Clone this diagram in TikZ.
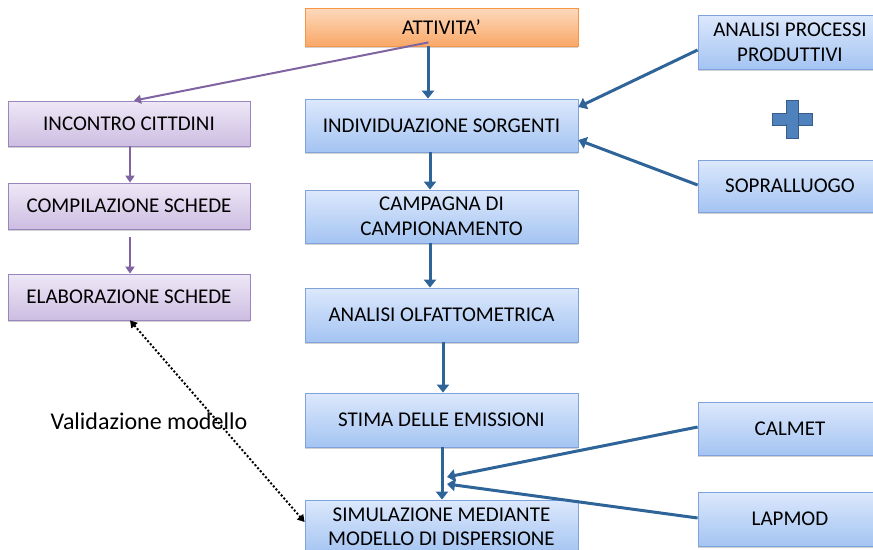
\documentclass[tikz,border=0pt]{standalone}
\usepackage{fontspec}
\setmainfont{Carlito}
\usetikzlibrary{arrows.meta,calc,shadows}
\definecolor{bluetop}{HTML}{DCE8FC}
\definecolor{bluebot}{HTML}{A4C4F2}
\definecolor{blueedge}{HTML}{7FA3DA}
\definecolor{purtop}{HTML}{EEE8F6}
\definecolor{purbot}{HTML}{CDBDE2}
\definecolor{puredge}{HTML}{9A85BE}
\definecolor{ortop}{HTML}{FDD9BC}
\definecolor{orbot}{HTML}{F9A868}
\definecolor{oredge}{HTML}{F79646}
\definecolor{arrblue}{HTML}{2F6499}
\definecolor{arrpur}{HTML}{8064A2}
\definecolor{plusfill}{HTML}{4F81BD}
\definecolor{plusedge}{HTML}{385D8A}
\tikzset{
  base/.style={rectangle, draw, line width=0.8pt, align=center, inner sep=0pt,
    font=\fontsize{21}{25}\selectfont, text=black,
    drop shadow={shadow xshift=0pt, shadow yshift=-2pt, fill=black!30, opacity=0.6}},
  bluebox/.style={base, draw=blueedge, top color=bluetop, bottom color=bluebot},
  purbox/.style={base, draw=puredge, top color=purtop, bottom color=purbot},
  orbox/.style={base, draw=oredge, top color=ortop, bottom color=orbot},
  barr/.style={draw=arrblue, line width=3pt, -{Triangle[width=12pt,length=8pt]}},
  parr/.style={draw=arrpur, line width=2pt, -{Triangle[width=9pt,length=7pt]}},
  darr/.style={draw=black, line width=2pt, dotted, {Triangle[width=8pt,length=7pt]}-{Triangle[width=8pt,length=7pt]}},
}
\begin{document}
\begin{tikzpicture}[x=1pt,y=-1pt]
\useasboundingbox (0,0) rectangle (873,549);
\clip (0,0) rectangle (873,549);
% central column
\node[orbox, minimum width=273pt, minimum height=38pt] (att) at (441.5,27) {ATTIVITA’};
\node[bluebox, minimum width=273pt, minimum height=53pt] (ind) at (441.5,125.5) {INDIVIDUAZIONE SORGENTI};
\node[bluebox, minimum width=273pt, minimum height=53pt] (camp) at (441.5,216.5) {CAMPAGNA DI\\CAMPIONAMENTO};
\node[bluebox, minimum width=273pt, minimum height=54pt] (olf) at (441.5,315) {ANALISI OLFATTOMETRICA};
\node[bluebox, minimum width=273pt, minimum height=54pt] (stima) at (441.5,420) {STIMA DELLE EMISSIONI};
\node[bluebox, minimum width=273pt, minimum height=54pt, font=\fontsize{21}{24}\selectfont] (sim) at (441.5,527) {SIMULAZIONE MEDIANTE\\MODELLO DI DISPERSIONE};
% left column
\node[purbox, minimum width=242pt, minimum height=45pt] (inc) at (129,123.5) {INCONTRO CITTDINI};
\node[purbox, minimum width=242pt, minimum height=46pt] (comp) at (129,206) {COMPILAZIONE SCHEDE};
\node[purbox, minimum width=242pt, minimum height=46pt] (elab) at (129,297) {ELABORAZIONE SCHEDE};
% right column
\node[bluebox, minimum width=184pt, minimum height=54pt] (proc) at (790,42) {ANALISI PROCESSI\\PRODUTTIVI};
\node[bluebox, minimum width=184pt, minimum height=52pt] (sopr) at (790,186) {SOPRALLUOGO};
\node[bluebox, minimum width=184pt, minimum height=53pt] (calm) at (790,428.5) {CALMET};
\node[bluebox, minimum width=184pt, minimum height=54pt] (lap) at (790,519) {LAPMOD};
% plus sign
\node[draw=plusedge, fill=plusfill, line width=1pt, minimum width=40pt, minimum height=12pt, inner sep=0pt] (plush) at (792,119) {};
\node[draw=plusedge, fill=plusfill, line width=1pt, minimum width=12pt, minimum height=38pt, inner sep=0pt] (plusv) at (792,119) {};
\fill[plusfill] (786,113.8) rectangle (798,124.2);
% label
\node[font=\fontsize{24}{28}\selectfont, inner sep=0pt] (valid) at (149,421) {Validazione modello};
% connectors
\coordinate (attp) at ($(att.south)+(-13,-4)$);
\draw[parr] (attp) -- (inc.north -| 134,0);
\draw[barr] (att.south -| 428,0) -- (ind.north -| 428,0);
\draw[parr] (inc.south -| 130,0) -- (comp.north -| 130,0);
\draw[parr] ($(comp.south -| 130,0)+(0,8)$) -- (elab.north -| 130,0);
\draw[barr] (ind.south -| 430,0) -- (camp.north -| 430,0);
\draw[barr] (camp.south -| 430,0) -- (olf.north -| 430,0);
\draw[barr] (olf.south -| 443,0) -- (stima.north -| 443,0);
\draw[barr] (stima.south -| 442,0) -- (sim.north -| 442,0);
\draw[barr] (proc.west |- 0,50) -- (ind.east |- 0,107);
\draw[barr] (sopr.west |- 0,185) -- (ind.east |- 0,140);
\coordinate (mA) at (447,477);
\coordinate (mB) at (447,484);
\draw[barr] (calm.west |- 0,427) -- (mA);
\draw[barr] (lap.west |- 0,518) -- (mB);
\draw[darr] (elab.south -| 130,0) -- (sim.west |- 0,522);
\end{tikzpicture}
\end{document}
